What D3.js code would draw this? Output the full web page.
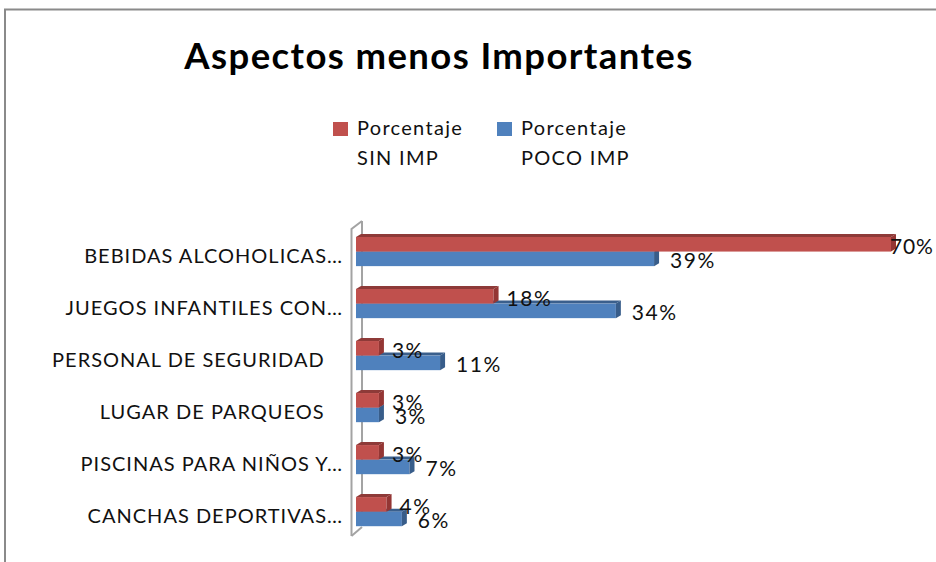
<!DOCTYPE html>
<html>
<head>
<meta charset="utf-8">
<script src="https://cdn.jsdelivr.net/npm/d3@7"></script>
<style>
  body { margin: 0; background: #fff; }
  text { font-family: Lato, "Noto Sans", sans-serif; fill: #111; }
</style>
</head>
<body>
<div id="chart"></div>
<script>
// data
const categories = [
    "BEBIDAS ALCOHOLICAS\u2026",
    "JUEGOS INFANTILES CON\u2026",
    "PERSONAL DE SEGURIDAD\u00a0\u00a0\u00a0",
    "LUGAR DE PARQUEOS\u00a0\u00a0\u00a0",
    "PISCINAS PARA NIÑOS Y\u2026",
    "CANCHAS DEPORTIVAS\u2026"
]
const seriesNames = ["Porcentaje SIN IMP", "Porcentaje POCO IMP"]
const sinImp = [70, 18, 3, 3, 3, 4]
const pocoImp = [39, 34, 11, 3, 7, 6]

const width = 936
const height = 562
const colors = {
    front: ["#C0504D", "#4F81BD"],
    top: ["#8E3A38", "#3A5F8C"],
    side: ["#943634", "#385D8A"]
}
const dx = 5, dy = 3 // fake 3d depth

const svg = d3.select("#chart")
    .append("svg")
    .attr("width", width)
    .attr("height", height)

// outer frame (only top and left edges show in the picture)
svg.append("rect")
    .attr("x", 5).attr("y", 9.5)
    .attr("width", width + 20).attr("height", height + 20)
    .attr("fill", "none")
    .attr("stroke", "#8a8a8a")
    .attr("stroke-width", 2)

// title
svg.append("text")
    .attr("x", 439).attr("y", 69)
    .attr("text-anchor", "middle")
    .style("font-size", "36.5px")
    .style("font-weight", "bold")
    .style("letter-spacing", "1.4px")
    .style("fill", "#000")
    .text("Aspectos menos Importantes")

// legend
const legendX = [333, 497]
seriesNames.forEach((name, i) => {
    const g = svg.append("g").attr("transform", `translate(${legendX[i]},122)`)
    g.append("rect")
        .attr("width", 15).attr("height", 14)
        .attr("fill", colors.front[i])
    const words = name.split(" ")
    const t = g.append("text")
        .attr("x", 24).attr("y", 13)
        .style("font-size", "20px")
        .style("letter-spacing", "1.3px")
    t.append("tspan").attr("x", 24).text(words[0])
    t.append("tspan").attr("x", 24).attr("dy", 30).text(words.slice(1).join(" "))
})

// scales
const x = d3.scaleLinear().domain([0, 70]).range([356, 891])
const y = d3.scaleBand().domain(categories).range([226.6, 536.6])
    .paddingInner(0.44).paddingOuter(0.2)
const ySub = d3.scaleBand().domain([0, 1]).range([0, y.bandwidth()])

// side wall of the 3d plot
const wall = svg.append("g")
    .attr("fill", "none")
    .attr("stroke", "#a3a3a3")
    .attr("stroke-width", 2)
wall.append("path")
    .attr("d", d3.line()([[362, 536 - 10], [362, 221]]))
wall.append("path")
    .attr("d", d3.line()([[351.5, 536], [351.5, 229], [362, 221]]))
wall.append("path")
    .attr("d", d3.line()([[351.5, 536], [362, 527]]))

function bar3d(g, x0, x1, y0, y1, s) {
    g.append("polygon")
        .attr("points", [[x0, y0], [x0 + dx, y0 - dy], [x1 + dx, y0 - dy], [x1, y0]].join(" "))
        .attr("fill", colors.top[s])
    g.append("rect")
        .attr("x", x0).attr("y", y0)
        .attr("width", x1 - x0).attr("height", y1 - y0)
        .attr("fill", colors.front[s])
    g.append("polygon")
        .attr("points", [[x1, y0], [x1 + dx, y0 - dy], [x1 + dx, y1 - dy], [x1, y1]].join(" "))
        .attr("fill", colors.side[s])
}

const values = [sinImp, pocoImp]
const bars = svg.append("g")
categories.forEach((cat, i) => {
    // blue first so the red bar sits on top of it
    [1, 0].forEach(s => {
        const y0 = y(cat) + ySub(s)
        bar3d(bars, x(0), x(values[s][i]), y0, y0 + ySub.bandwidth(), s)
    })
})

// category labels
svg.append("g")
    .selectAll("text")
    .data(categories)
    .join("text")
    .attr("x", 343)
    .attr("y", d => y(d) + 26)
    .attr("text-anchor", "end")
    .style("font-size", "20px")
    .style("letter-spacing", "1px")
    .style("white-space", "pre")
    .text(d => d)

// value labels
const labels = svg.append("g")
    .style("font-size", "21px")
    .style("letter-spacing", "1.5px")
categories.forEach((cat, i) => {
    [0, 1].forEach(s => {
        const v = values[s][i]
        // keep the widest label inside the frame, like the original
        const lx = Math.min(x(v) + (s === 0 ? 13 : 16), width - 46)
        const ly = y(cat) + ySub(s) + ySub.bandwidth() + 2
        labels.append("text")
            .attr("x", lx)
            .attr("y", ly)
            .style("letter-spacing", v >= 70 ? "0.8px" : null)
            .text(v + "%")
    })
})
</script>
</body>
</html>
